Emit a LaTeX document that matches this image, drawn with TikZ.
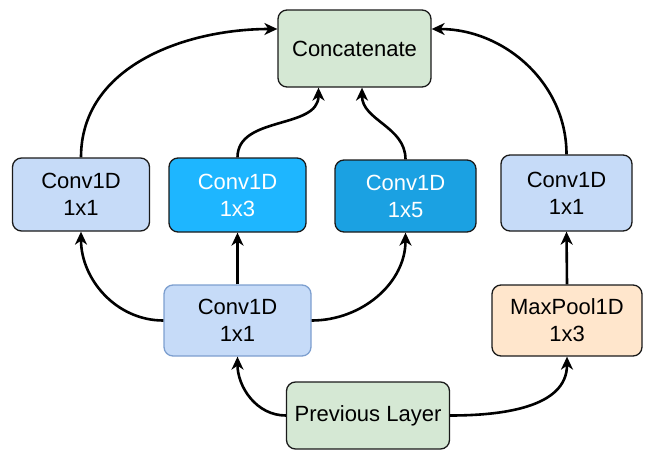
\documentclass[tikz,border=0pt]{standalone}
\usepackage{fontspec}
\setmainfont{Liberation Sans}
\usepackage{tikz}
\usetikzlibrary{arrows.meta, positioning}
\usepackage{xcolor}
\definecolor{concatbg}{HTML}{D5E8D4}
\definecolor{convbg}{HTML}{C6DBF8}
\definecolor{convedge}{HTML}{7D9FCF}
\definecolor{convthree}{HTML}{1EB6FF}
\definecolor{convfive}{HTML}{1BA1E2}
\definecolor{poolbg}{HTML}{FFE6CC}
\definecolor{boxedge}{HTML}{1A1A1A}

\begin{document}
\begin{tikzpicture}[
    x=1pt, y=-1pt,
    block/.style={draw=boxedge, line width=1.3pt, rounded corners=9pt, align=center,
        font=\fontsize{22}{27}\selectfont, inner sep=0pt},
    flow/.style={draw, line width=2.6pt, -{Stealth[length=13pt, width=12pt, inset=4pt]}}
]
\useasboundingbox (0,0) rectangle (648,450);

% output and input
\node[block, fill=concatbg, minimum width=153pt, minimum height=77pt] (concat) at (354.5,48.5) {Concatenate};
\node[block, fill=concatbg, minimum width=163pt, minimum height=67pt] (prev) at (368,415.5) {Previous Layer};

% the four branches
\node[block, fill=convbg, minimum width=137pt, minimum height=73pt] (convA) at (81,194.5) {Conv1D\\1x1};
\node[block, fill=convthree, text=white, minimum width=137pt, minimum height=74pt] (convB) at (237.5,195) {Conv1D\\1x3};
\node[block, fill=convfive, text=white, minimum width=141pt, minimum height=72pt] (convC) at (405.5,196) {Conv1D\\1x5};
\node[block, fill=convbg, minimum width=131pt, minimum height=76pt] (convD) at (566.5,193) {Conv1D\\1x1};

% reduction and pooling
\node[block, fill=convbg, draw=convedge, minimum width=147pt, minimum height=71pt] (reduce) at (237.5,320.5) {Conv1D\\1x1};
\node[block, fill=poolbg, minimum width=150pt, minimum height=71pt] (pool) at (567,320.5) {MaxPool1D\\1x3};

% connections
\draw[flow] (prev.west) to[out=180, in=-90] (reduce.south);
\draw[flow] (prev.east) to[out=0, in=-90] (pool.south);
\draw[flow] (reduce.west) to[out=180, in=-90] (convA.south);
\draw[flow] (reduce.north) -- (convB.south);
\draw[flow] (reduce.east) to[out=0, in=-90] (convC.south);
\draw[flow] (pool.north) -- (convD.south);
\draw[flow] (convA.north) to[out=90, in=180] ([yshift=19.5pt]concat.west);
\draw[flow] (convD.north) to[out=90, in=0] ([yshift=19.5pt]concat.east);
\draw[flow] (convB.north) to[out=90, in=-90] ([xshift=-36pt]concat.south);
\draw[flow] (convC.north) to[out=90, in=-90] ([xshift=7.5pt]concat.south);
\end{tikzpicture}
\end{document}
